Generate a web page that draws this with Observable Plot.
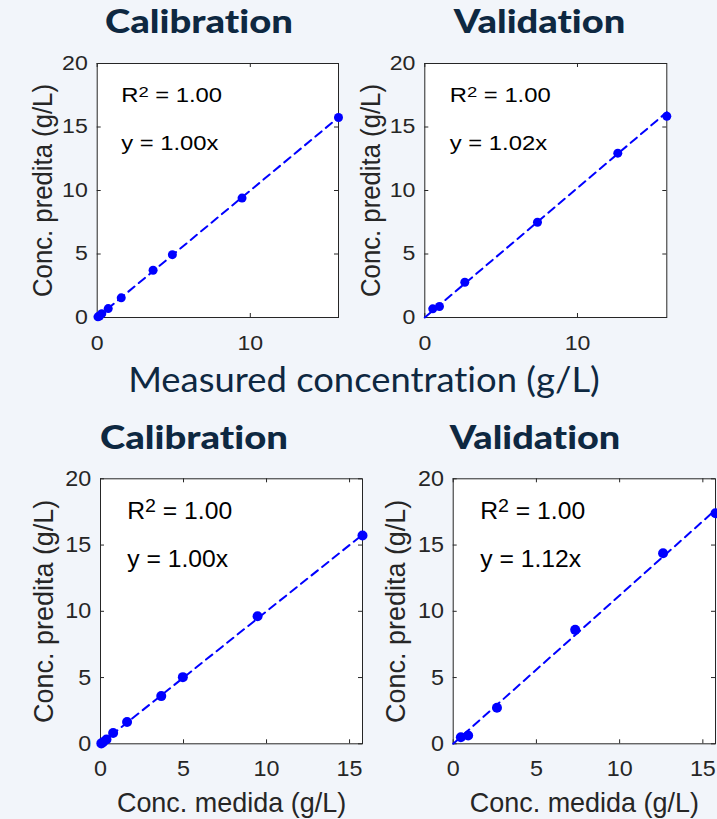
<!DOCTYPE html>
<html><head><meta charset="utf-8">
<script src="https://cdn.jsdelivr.net/npm/d3@7"></script>
<script src="https://cdn.jsdelivr.net/npm/@observablehq/plot@0.6"></script>
<style>
html,body{margin:0;padding:0;background:#f2f5fa;}
#root{position:relative;width:717px;height:819px;overflow:hidden;background:#f2f5fa;}
.panel{position:absolute;overflow:hidden;}
#overlay{position:absolute;left:0;top:0;pointer-events:none;font-variant-ligatures:none;}
#overlay text{font-variant-ligatures:none;font-feature-settings:"liga" 0;}
</style></head><body><div id="root"></div>
<script>
// ---------- data ----------
const panelTitles = ["Calibration", "Validation", "Calibration", "Validation"];
const sharedXLabel = "Measured concentration (g/L)";
const yLabel = "Conc. predita (g/L)";
const xLabelBottom = "Conc. medida (g/L)";
const yTicks = [0, 5, 10, 15, 20];
const xTicksTop = [0, 10];
const xTicksBottom = [0, 5, 10, 15];

// top-left: calibration (row 1)
const cal1X = [0.05, 0.15, 0.3, 0.72, 1.57, 3.65, 4.91, 9.46, 15.76];
const cal1Y = [0.05, 0.12, 0.3, 0.7, 1.55, 3.72, 4.95, 9.4, 15.75];
// top-right: validation (row 1)
const val1X = [0.52, 0.96, 2.62, 7.38, 12.64, 15.85];
const val1Y = [0.68, 0.87, 2.78, 7.5, 12.94, 15.85];
// bottom-left: calibration (row 2)
const cal2X = [0.05, 0.15, 0.36, 0.76, 1.6, 3.66, 4.96, 9.46, 15.78];
const cal2Y = [0.03, 0.12, 0.32, 0.82, 1.65, 3.6, 5.03, 9.63, 15.72];
// bottom-right: validation (row 2)
const val2X = [0.46, 0.9, 2.63, 7.33, 12.61, 15.76];
const val2Y = [0.5, 0.63, 2.72, 8.6, 14.38, 17.4];

const slopes = [1.00, 1.02, 1.00, 1.12];
const r2Values = [1.00, 1.00, 1.00, 1.00];

// ---------- layout / style ----------
const BG = "#f2f5fa", NAVY = "#0e2841", AX = "#262626", BLUE = "#0000ff";
const rowTop = {tickFont: 20, tickK: 1.155, labelFont: 27.5, labelK: 0.935, annFont: 20, annK: 1.19,
  xTickPad: 18, yTickPad: 9.4, xLabelOffset: 0, annDy1: 38.7, annDy2: 86.3, r: 4.5, supShift: 5, supSize: 15.5};
const rowBot = {tickFont: 22, tickK: 1.06, labelFont: 27.5, labelK: 0.98, annFont: 23.3, annK: 1.06,
  xTickPad: 16.7, yTickPad: 9.3, xLabelOffset: 68, annDy1: 40, annDy2: 88.4, r: 5, supShift: 6.5, supSize: 18.5};

const panels = [
  {xs: cal1X, ys: cal1Y, row: rowTop, xTicks: xTicksTop, xLabel: null, box: {left: 0, top: 40, width: 345, height: 318}, frame: {L: 96.7, R: 338, T: 63, B: 317}, yLabelOffset: 65, annDx: 24},
  {xs: val1X, ys: val1Y, row: rowTop, xTicks: xTicksTop, xLabel: null, box: {left: 345, top: 40, width: 372, height: 318}, frame: {L: 424.3, R: 666.3, T: 63, B: 317}, yLabelOffset: 64, annDx: 25},
  {xs: cal2X, ys: cal2Y, row: rowBot, xTicks: xTicksBottom, xLabel: xLabelBottom, box: {left: 0, top: 460, width: 375, height: 359}, frame: {L: 100, R: 362, T: 478.3, B: 743.3}, yLabelOffset: 66.7, annDx: 26.7},
  {xs: val2X, ys: val2Y, row: rowBot, xTicks: xTicksBottom, xLabel: xLabelBottom, box: {left: 368, top: 460, width: 349, height: 359}, frame: {L: 452.7, R: 715, T: 478.3, B: 743.3}, yLabelOffset: 67.4, annDx: 27}
];

const titleLayout = [
  {cx: 199, y: 33.3, w: 188}, {cx: 539.5, y: 33.3, w: 171.6},
  {cx: 194, y: 449.3, w: 188}, {cx: 535, y: 449.3, w: 170.6}
];

const root = document.getElementById("root");
const stretchJobs = [];
const ns = "http://www.w3.org/2000/svg";

panels.forEach((p, i) => {
  const {box, frame, row} = p;
  const mL = frame.L - box.left, mR = box.left + box.width - frame.R;
  const mT = frame.T - box.top, mB = box.top + box.height - frame.B;
  const pw = frame.R - frame.L, ph = frame.B - frame.T;
  const pts = p.xs.map((x, j) => ({x, y: p.ys[j]}));
  const xmax = d3.max(p.xs);
  const fit = [{x: 0, y: 0}, {x: xmax, y: slopes[i] * xmax}];
  const r2Text = `R2 = ${r2Values[i].toFixed(2)}`;
  const eqText = `y = ${slopes[i].toFixed(2)}x`;

  const chart = Plot.plot({
    width: box.width, height: box.height,
    marginLeft: mL, marginRight: mR, marginTop: mT, marginBottom: mB,
    style: {background: "transparent", fontFamily: "'Liberation Sans', Arial, sans-serif", color: AX, overflow: "visible"},
    x: {domain: [0, xmax]},
    y: {domain: [0, 20]},
    marks: [
      Plot.frame({fill: "white", stroke: "none"}),
      Plot.axisY(yTicks, {anchor: "left", tickSize: 0, tickPadding: row.yTickPad, fontSize: row.tickFont,
        tickFormat: d => String(d), label: yLabel, labelAnchor: "center", labelOffset: p.yLabelOffset, labelArrow: "none", fill: AX}),
      Plot.axisX(p.xTicks, {anchor: "bottom", tickSize: 0, tickPadding: row.xTickPad, fontSize: row.tickFont,
        tickFormat: d => String(d), label: p.xLabel, labelAnchor: "center", labelOffset: row.xLabelOffset, labelArrow: "none", fill: AX}),
      Plot.tickY(yTicks, {y: d => d, insetRight: pw - 4, stroke: AX}),
      Plot.tickY(yTicks, {y: d => d, insetLeft: pw - 4, stroke: AX}),
      Plot.tickX(p.xTicks, {x: d => d, insetTop: ph - 4, stroke: AX}),
      Plot.tickX(p.xTicks, {x: d => d, insetBottom: ph - 4, stroke: AX}),
      Plot.frame({stroke: AX, strokeWidth: 1}),
      Plot.line(fit, {x: "x", y: "y", stroke: BLUE, strokeWidth: 2, strokeDasharray: "8,5.5"}),
      Plot.dot(pts, {x: "x", y: "y", r: row.r, fill: BLUE, stroke: "none"}),
      Plot.text([r2Text], {frameAnchor: "top-left", dx: p.annDx, dy: row.annDy1, textAnchor: "start", lineAnchor: "bottom",
        fontSize: row.annFont, fill: "black"}),
      Plot.text([eqText], {frameAnchor: "top-left", dx: p.annDx, dy: row.annDy2, textAnchor: "start", lineAnchor: "bottom",
        fontSize: row.annFont, fill: "black"})
    ]
  });

  const wrap = document.createElement("div");
  wrap.className = "panel";
  Object.assign(wrap.style, {left: box.left + "px", top: box.top + "px", width: box.width + "px", height: box.height + "px"});
  wrap.appendChild(chart);
  root.appendChild(wrap);

  const setSize = (label, size) => chart.querySelectorAll(`g[aria-label="${label}"]`).forEach(g => {
    g.setAttribute("font-size", size);
    g.querySelectorAll("text").forEach(t => t.removeAttribute("font-size"));
  });
  setSize("y-axis label", row.labelFont);
  setSize("x-axis label", row.labelFont);

  const groups = [
    ["y-axis tick label", row.tickK], ["x-axis tick label", row.tickK],
    ["y-axis label", row.labelK], ["x-axis label", row.labelK]
  ];
  groups.forEach(([label, k]) => chart.querySelectorAll(`g[aria-label="${label}"] text`).forEach(t => stretchJobs.push([t, k])));

  chart.querySelectorAll("text").forEach(t => {
    const s = t.textContent;
    if (s === r2Text) {
      // superscript for R^2
      t.textContent = "";
      const a = document.createElementNS(ns, "tspan"); a.textContent = "R";
      const b = document.createElementNS(ns, "tspan"); b.textContent = "2";
      b.setAttribute("font-size", row.supSize); b.setAttribute("dy", -row.supShift);
      const c = document.createElementNS(ns, "tspan"); c.textContent = s.slice(2);
      c.setAttribute("dy", row.supShift);
      t.append(a, b, c);
      stretchJobs.push([t, row.annK]);
    } else if (s === eqText) {
      stretchJobs.push([t, row.annK]);
    }
  });
});

stretchJobs.forEach(([t, k]) => {
  const L = t.getComputedTextLength();
  if (L > 0) {
    t.setAttribute("textLength", (L * k).toFixed(2));
    t.setAttribute("lengthAdjust", "spacingAndGlyphs");
  }
});

// ---------- titles & shared label overlay ----------
const ov = document.createElementNS(ns, "svg");
ov.setAttribute("id", "overlay");
ov.setAttribute("width", 717); ov.setAttribute("height", 819);
root.appendChild(ov);
panelTitles.forEach((title, i) => {
  const l = titleLayout[i];
  const t = document.createElementNS(ns, "text");
  t.textContent = title;
  t.setAttribute("x", l.cx); t.setAttribute("y", l.y);
  t.setAttribute("text-anchor", "middle");
  t.setAttribute("font-family", "Lato, 'Open Sans', sans-serif");
  t.setAttribute("font-weight", "900");
  t.setAttribute("font-size", 32.5);
  t.setAttribute("fill", NAVY);
  t.setAttribute("textLength", l.w);
  t.setAttribute("lengthAdjust", "spacingAndGlyphs");
  ov.appendChild(t);
});
{
  const t = document.createElementNS(ns, "text");
  t.textContent = sharedXLabel;
  t.setAttribute("x", 364); t.setAttribute("y", 391.7);
  t.setAttribute("text-anchor", "middle");
  t.setAttribute("font-family", "Lato, 'Open Sans', sans-serif");
  t.setAttribute("font-size", 34.5);
  t.setAttribute("fill", NAVY);
  t.setAttribute("textLength", 471.7);
  t.setAttribute("lengthAdjust", "spacingAndGlyphs");
  ov.appendChild(t);
}
</script>
</body></html>
